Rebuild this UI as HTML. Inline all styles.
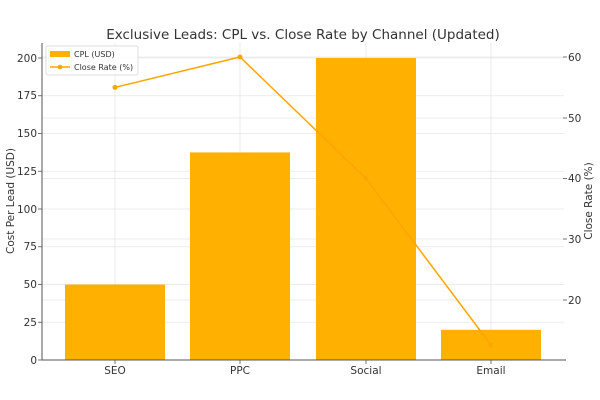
<!DOCTYPE html>
<html><head><meta charset="utf-8"><style>body{margin:0;background:#fff}svg{display:block}text{font-family:"DejaVu Sans","Liberation Sans",sans-serif;fill:#333}</style></head><body>
<svg width="600" height="400" viewBox="0 0 600 400">
<text x="303" y="39" font-size="13.5" text-anchor="middle">Exclusive Leads: CPL vs. Close Rate by Channel (Updated)</text>
<g stroke="#e6e6e6" stroke-width="0.8">
<line x1="42" x2="564" y1="322.25" y2="322.25"/><line x1="42" x2="564" y1="284.5" y2="284.5"/><line x1="42" x2="564" y1="246.75" y2="246.75"/><line x1="42" x2="564" y1="209" y2="209"/><line x1="42" x2="564" y1="171.25" y2="171.25"/><line x1="42" x2="564" y1="133.5" y2="133.5"/><line x1="42" x2="564" y1="95.75" y2="95.75"/><line x1="42" x2="564" y1="58" y2="58"/>
<line x1="42" x2="564" y1="300" y2="300"/><line x1="42" x2="564" y1="239" y2="239"/><line x1="42" x2="564" y1="178.5" y2="178.5"/><line x1="42" x2="564" y1="118" y2="118"/><line x1="42" x2="564" y1="57" y2="57"/>
<line x1="115" x2="115" y1="43" y2="360"/><line x1="240" x2="240" y1="43" y2="360"/><line x1="366" x2="366" y1="43" y2="360"/><line x1="491" x2="491" y1="43" y2="360"/>
</g>
<g fill="#ffb000">
<rect x="65" y="284.5" width="100" height="75.5"/><rect x="190" y="152.4" width="100" height="207.6"/><rect x="316" y="58" width="100" height="302"/><rect x="441" y="329.8" width="100" height="30.2"/>
</g>
<polyline points="115,87.4 240,57 366,178.5 491,345" fill="none" stroke="#ffa500" stroke-width="1.5"/>
<g fill="#ffa500"><circle cx="115" cy="87.4" r="2.5"/><circle cx="240" cy="57" r="2.5"/><circle cx="366" cy="178.5" r="2.5"/><circle cx="491" cy="345" r="2.5"/></g>
<g stroke="#555" stroke-width="1"><line x1="42" x2="42" y1="43" y2="360"/><line x1="42" x2="566" y1="360" y2="360"/></g>
<g stroke="#555" stroke-width="0.8">
<line x1="38" x2="42" y1="360" y2="360"/><line x1="38" x2="42" y1="322.25" y2="322.25"/><line x1="38" x2="42" y1="284.5" y2="284.5"/><line x1="38" x2="42" y1="246.75" y2="246.75"/><line x1="38" x2="42" y1="209" y2="209"/><line x1="38" x2="42" y1="171.25" y2="171.25"/><line x1="38" x2="42" y1="133.5" y2="133.5"/><line x1="38" x2="42" y1="95.75" y2="95.75"/><line x1="38" x2="42" y1="58" y2="58"/>
<line x1="563" x2="567" y1="300" y2="300"/><line x1="563" x2="567" y1="239" y2="239"/><line x1="563" x2="567" y1="178.5" y2="178.5"/><line x1="563" x2="567" y1="118" y2="118"/><line x1="563" x2="567" y1="57" y2="57"/>
<line x1="115" x2="115" y1="360" y2="364"/><line x1="240" x2="240" y1="360" y2="364"/><line x1="366" x2="366" y1="360" y2="364"/><line x1="491" x2="491" y1="360" y2="364"/>
</g>
<g font-size="10.5" text-anchor="end">
<text x="37" y="364">0</text><text x="37" y="326">25</text><text x="37" y="288">50</text><text x="37" y="250">75</text><text x="37" y="213">100</text><text x="37" y="175">125</text><text x="37" y="137">150</text><text x="37" y="99">175</text><text x="37" y="62">200</text>
</g>
<g font-size="10.5">
<text x="568" y="304">20</text><text x="568" y="243">30</text><text x="568" y="182">40</text><text x="568" y="122">50</text><text x="568" y="61">60</text>
</g>
<g font-size="10.5" text-anchor="middle"><text x="115" y="374">SEO</text><text x="240" y="374">PPC</text><text x="366" y="374">Social</text><text x="491" y="374">Email</text></g>
<text transform="translate(14,201) rotate(-90)" font-size="10.5" text-anchor="middle">Cost Per Lead (USD)</text>
<text transform="translate(592,201) rotate(-90)" font-size="10.5" text-anchor="middle">Close Rate (%)</text>
<rect x="46" y="46" width="92" height="29" fill="#fff" fill-opacity="0.85" stroke="#ddd" rx="2"/>
<rect x="50" y="51" width="20" height="6" fill="#ffb000"/>
<text x="74" y="57" font-size="8">CPL (USD)</text>
<line x1="50" x2="70" y1="67" y2="67" stroke="#ffa500" stroke-width="1.5"/><circle cx="60" cy="67" r="2.3" fill="#ffa500"/>
<text x="74" y="70" font-size="8">Close Rate (%)</text>
</svg>
</body></html>
